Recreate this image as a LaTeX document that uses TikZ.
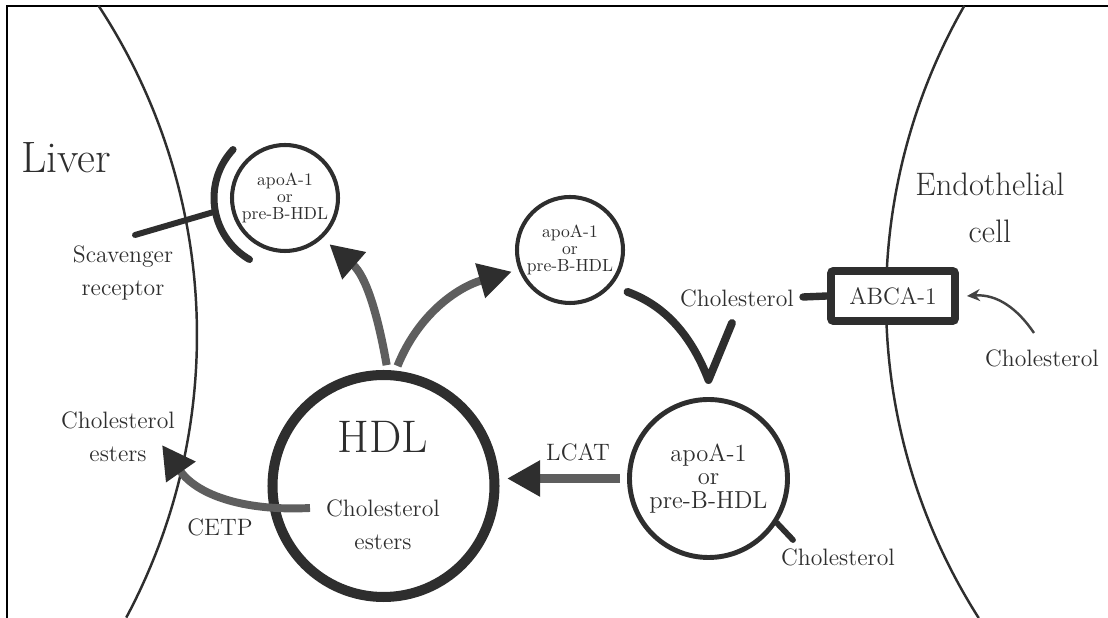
\documentclass[tikz,border=0pt]{standalone}
\usepackage{tikz}
\usepackage{xcolor}
\usetikzlibrary{arrows.meta,calc}
\definecolor{cellink}{HTML}{2E2E2E}
\definecolor{cellflow}{HTML}{5E5E5E}
\tikzset{
  membrane/.style  = {draw=cellink, line width=1.4pt},
  smallpart/.style = {circle, draw=cellink, line width=2.3pt, minimum size=2.12cm, inner sep=0pt,
                      align=center, text=cellink, font=\fontsize{10}{9.6}\selectfont},
  bigpart/.style   = {circle, draw=cellink, line width=2.8pt, minimum size=3.16cm, inner sep=0pt,
                      align=center, text=cellink, font=\fontsize{14}{13.4}\selectfont},
  hdlball/.style   = {circle, draw=cellink, line width=5.7pt, minimum size=4.44cm, inner sep=0pt},
  lbl/.style       = {text=cellink, align=center, font=\fontsize{13.5}{19}\selectfont},
  bigtitle/.style  = {text=cellink, align=center, font=\fontsize{18.5}{26.6}\selectfont},
  flow/.style      = {draw=cellflow, line width=4.6pt,
                      -{Triangle[length=0.66cm, width=0.68cm, color=cellink]}},
  receptor/.style  = {draw=cellink, line width=4pt, line cap=round},
  vstroke/.style   = {draw=cellink, line width=4.5pt, line cap=round, line join=round},
  pump/.style      = {rectangle, draw=cellink, fill=white, line width=4.5pt, rounded corners=1.5pt,
                      minimum width=2.48cm, minimum height=1cm, text=cellink,
                      font=\fontsize{13.5}{16}\selectfont},
  thinflow/.style  = {draw=cellink!90, line width=1.4pt, -{Stealth[length=0.26cm, width=0.24cm]}},
}

\begin{document}
\begin{tikzpicture}
\useasboundingbox (0,0) rectangle (22.16,12.36);
% frame and membranes
\draw[line width=1.1pt, black] (0.14,0) -- (0.14,12.24) -- (22.16,12.24);
\draw[membrane] (-8.06,5.66) ++(33.3:12) arc[start angle=33.3, end angle=-28.1, radius=12];
\draw[membrane] (29.56,6.36) ++(150.2:11.84) arc[start angle=150.2, end angle=212.5, radius=11.84];
\node[bigtitle, font=\fontsize{25}{28}\selectfont] (liver) at (1.32,9.20) {Liver};
\node[bigtitle] (endo) at (19.80,8.20) {Endothelial\\cell};

% scavenger receptor
\node[smallpart] (recv) at (5.70,8.40) {apoA-1\\or\\pre-B-HDL};
\draw[receptor] (recv.center) ++(137:1.42) arc[start angle=137, end angle=240, radius=1.42];
\coordinate (stemend) at (2.70,7.66);
\draw[receptor, line width=3.4pt] ($(recv.center)+(191:1.42)$) -- (stemend);
\node[lbl] (scav) at (2.46,6.90) {Scavenger\\receptor};

% HDL particle
\node[hdlball] (hdl) at (7.67,2.64) {};
\node[text=cellink, font=\fontsize{26}{30}\selectfont] (hdlname) at (7.66,3.62) {HDL};
\node[lbl] (hdlce) at (7.66,1.86) {Cholesterol\\esters};

% nascent particles
\node[smallpart] (apot) at (11.40,7.36) {apoA-1\\or\\pre-B-HDL};
\node[bigpart] (apob) at (14.17,2.79) {apoA-1\\or\\pre-B-HDL};
\coordinate (apotail) at (15.86,1.56);
\draw[receptor, line width=3.3pt] (apob.-33) -- (apotail);
\node[lbl] (cholB) at (16.76,1.22) {Cholesterol};

% efflux through ABCA-1
\node[pump] (abca) at (17.86,6.44) {ABCA-1};
\coordinate (pumpstub) at (16.06,6.42);
\draw[receptor, line width=4.2pt] (abca.west) -- (pumpstub);
\node[lbl] (cholA) at (14.74,6.40) {Cholesterol};
\node[lbl] (cholR) at (20.84,5.20) {Cholesterol};
\coordinate (cholsrc) at (20.68,5.70);
\draw[thinflow] (cholsrc) to[out=124, in=4] ([xshift=0.16cm]abca.east);

% uptake into apoA-1
\coordinate (hookC) at (14.64,5.90);
\draw[vstroke, shorten <=0.34cm] (apot.-41) to[out=-20, in=111] ([yshift=0.34cm]apob.north) -- (hookC);

% LCAT and CETP
\draw[flow, line width=5pt, shorten <=0.14cm, shorten >=0.15cm] (apob.west) -- (apob.west -| hdl.east);
\node[lbl] (lcat) at (11.56,3.32) {LCAT};
\coordinate (cetpsrc) at (6.20,2.20);
\coordinate (cetptip) at (3.24,3.46);
\draw[flow, line width=4.5pt] (cetpsrc) to[out=183, in=-55] (cetptip);
\node[lbl] (cetp) at (4.40,1.82) {CETP};
\node[lbl] (lce) at (2.36,3.62) {Cholesterol\\esters};

% HDL to liver and to apoA-1
\draw[flow, shorten <=0.1cm, shorten >=0.18cm] (hdl.88) to[out=100, in=-41] (recv.-47);
\draw[flow, shorten <=0.1cm, shorten >=0.14cm] (hdl.84) to[out=68, in=196] (apot.201);
\end{tikzpicture}
\end{document}
